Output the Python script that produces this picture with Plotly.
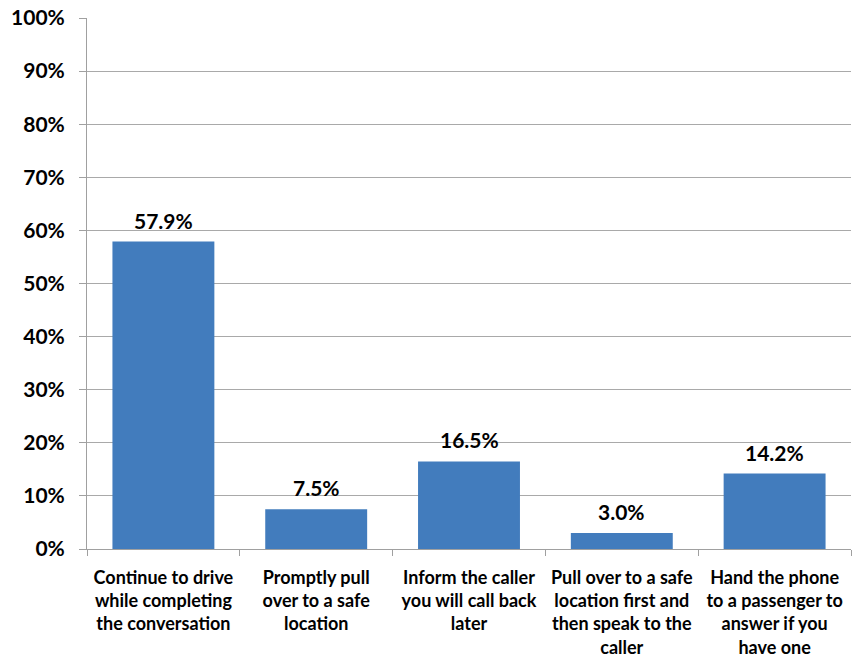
import plotly.graph_objects as go

categories = [
    "Continue to drive<br>while completing<br>the conversation",
    "Promptly pull<br>over to a safe<br>location",
    "Inform the caller<br>you will call back<br>later",
    "Pull over to a safe<br>location first and<br>then speak to the<br>caller",
    "Hand the phone<br>to a passenger to<br>answer if you<br>have one",
]
values = [0.579, 0.075, 0.165, 0.030, 0.142]
labels = ["57.9%", "7.5%", "16.5%", "3.0%", "14.2%"]

FONT = "Lato, Calibri, 'Open Sans', sans-serif"

fig = go.Figure(
    go.Bar(
        x=categories,
        y=values,
        marker=dict(color="#427CBD", line=dict(width=0)),
        width=0.667,
        hoverinfo="skip",
    )
)

for cat, val, lab in zip(categories, values, labels):
    fig.add_annotation(
        x=cat,
        y=val,
        text=lab,
        showarrow=False,
        yanchor="bottom",
        yshift=7,
        font=dict(family=FONT, size=21, color="#000000", weight="bold"),
    )

fig.update_layout(
    width=852,
    height=660,
    margin=dict(l=87, r=1, t=18, b=111),
    plot_bgcolor="white",
    paper_bgcolor="white",
    showlegend=False,
    font=dict(family=FONT, color="#000000"),
)

fig.update_xaxes(
    type="category",
    automargin=False,
    showline=True,
    linecolor="#A0A0A0",
    linewidth=1,
    ticks="outside",
    tickson="boundaries",
    ticklen=6,
    tickcolor="#A0A0A0",
    ticklabelstandoff=12,
    tickfont=dict(family=FONT, size=18, color="#000000", weight="bold"),
    showgrid=False,
)

fig.update_yaxes(
    range=[0, 1],
    dtick=0.1,
    tickformat=".0%",
    automargin=False,
    showline=True,
    linecolor="#A0A0A0",
    linewidth=1,
    ticks="outside",
    ticklen=7,
    tickcolor="#A0A0A0",
    showgrid=True,
    gridcolor="#A9A9A9",
    gridwidth=1,
    zeroline=False,
    ticklabelstandoff=10,
    tickfont=dict(family=FONT, size=21, color="#000000", weight="bold"),
)

fig.write_html(
    "out.html",
    config={"displayModeBar": False},
    post_script="document.body.style.margin='0';document.body.style.padding='0';",
)
